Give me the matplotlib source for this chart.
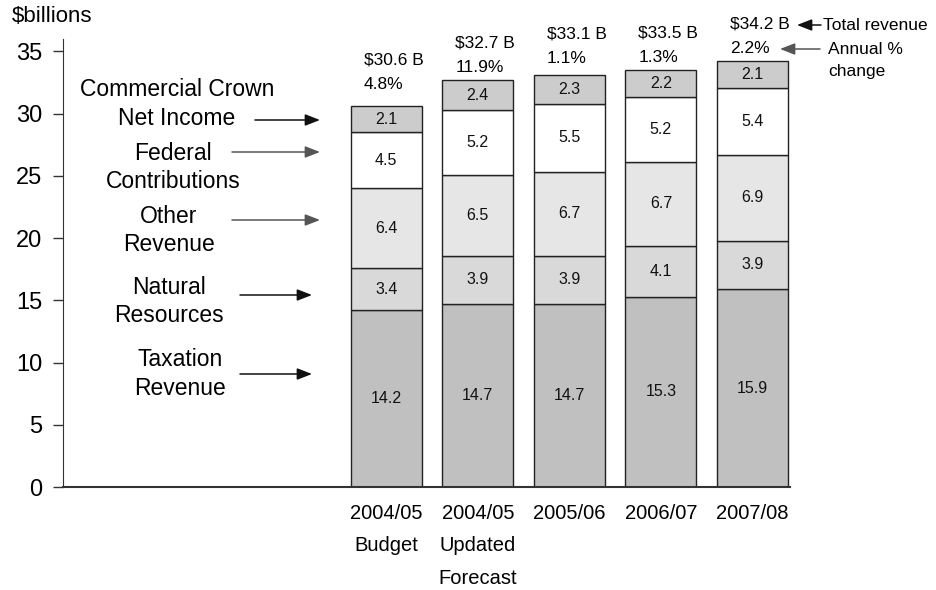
import matplotlib
matplotlib.use("Agg")
import matplotlib.pyplot as plt
import numpy as np

plt.rcParams['font.family'] = ['Liberation Sans', 'DejaVu Sans']

# ---- data ----
categories = ["2004/05\nBudget", "2004/05\nUpdated\nForecast", "2005/06", "2006/07", "2007/08"]
taxation = [14.2, 14.7, 14.7, 15.3, 15.9]
natural_resources = [3.4, 3.9, 3.9, 4.1, 3.9]
other_revenue = [6.4, 6.5, 6.7, 6.7, 6.9]
federal = [4.5, 5.2, 5.5, 5.2, 5.4]
crown = [2.1, 2.4, 2.3, 2.2, 2.1]
totals = [30.6, 32.7, 33.1, 33.5, 34.2]
pct_change = ["4.8%", "11.9%", "1.1%", "1.3%", "2.2%"]
series_names = ["Taxation\nRevenue", "Natural\nResources", "Other\nRevenue",
                "Federal\nContributions", "Commercial Crown\nNet Income"]
yticks = [0, 5, 10, 15, 20, 25, 30, 35]

# ---- styles / layout ----
colors = ["#c0c0c0", "#d9d9d9", "#e6e6e6", "#ffffff", "#cccccc"]
edge = "#222222"
W, H = 937, 590
fig = plt.figure(figsize=(W / 100, H / 100), dpi=100)
ax = fig.add_axes([63 / W, 1 - 487 / H, 727 / W, 448 / H])

x = np.arange(len(categories))
bw = 0.776
series = [taxation, natural_resources, other_revenue, federal, crown]
bottom = np.zeros(len(categories))
for vals, c in zip(series, colors):
    bars = ax.bar(x, vals, bw, bottom=bottom, color=c, edgecolor=edge, linewidth=1.0, zorder=2)
    ax.bar_label(bars, labels=[f"{v:.1f}" for v in vals], label_type='center', fontsize=11.5, color="#111111")
    bottom += np.array(vals)

ax.set_xlim(-3.53, 4.41)
ax.set_ylim(0, 36)
ax.set_yticks(yticks)
ax.set_yticklabels([str(t) for t in yticks], fontsize=17)
ax.set_xticks(x)
ax.set_xticklabels(categories, fontsize=14.5, linespacing=1.9)
ax.tick_params(axis='x', length=0, pad=12)
ax.tick_params(axis='y', length=7, width=1, color="#333333", pad=8)
for s in ["top", "right"]:
    ax.spines[s].set_visible(False)
ax.spines["left"].set_color("#333333")
ax.spines["bottom"].set_color("#333333")
ax.spines["bottom"].set_linewidth(1.5)

# total / % change annotations above bars
extra_lift = [9, 0, 4, 0, 0]
for i in range(len(categories)):
    left = x[i] - bw / 2
    ax.annotate(f"${totals[i]} B", xy=(left, totals[i]), xytext=(13, 37 + extra_lift[i]),
                textcoords='offset pixels', ha='left', va='center', fontsize=12.5)
    ax.annotate(pct_change[i], xy=(left, totals[i]), xytext=(13, 13 + extra_lift[i]),
                textcoords='offset pixels', ha='left', va='center', fontsize=12.5)

def fp(px, py):
    return (px / W, 1 - py / H)

fig.text(*fp(12, 17), "$billions", fontsize=16, ha='left', va='center')

ARROW = '-|>,head_length=9,head_width=3.5'

# series labels with arrows
label_pos = [(180.5, 374), (169, 301.5), (169, 230.5), (173, 167.5), (177, 104)]
arrows = [((240, 374), (312, 374), "#111111"),
          ((240, 295), (312, 295), "#111111"),
          ((232, 220), (320, 220), "#555555"),
          ((232, 152), (320, 152), "#555555"),
          ((255, 120), (320, 120), "#111111")]
for name, (px, py), (t, h, ac) in zip(series_names, label_pos, arrows):
    fig.text(*fp(px, py), name, fontsize=16.5, ha='center', va='center', linespacing=1.32)
    fig.add_artist(matplotlib.patches.FancyArrowPatch(
        fp(*t), fp(*h), transform=fig.transFigure, arrowstyle=ARROW,
        mutation_scale=1, color=ac, linewidth=1.1, shrinkA=0, shrinkB=0))

# right side notes
fig.text(*fp(823, 25), "Total revenue", fontsize=12.5, ha='left', va='center')
fig.add_artist(matplotlib.patches.FancyArrowPatch(
    fp(821, 25), fp(797, 25), transform=fig.transFigure, arrowstyle=ARROW,
    mutation_scale=1, color="#111111", linewidth=1.1, shrinkA=0, shrinkB=0))
fig.text(*fp(828, 60.5), "Annual %\nchange", fontsize=12.5, ha='left', va='center', linespacing=1.6)
fig.add_artist(matplotlib.patches.FancyArrowPatch(
    fp(820, 49), fp(780, 49), transform=fig.transFigure, arrowstyle=ARROW,
    mutation_scale=1, color="#555555", linewidth=1.1, shrinkA=0, shrinkB=0))

fig.savefig("out.png", dpi=100)
